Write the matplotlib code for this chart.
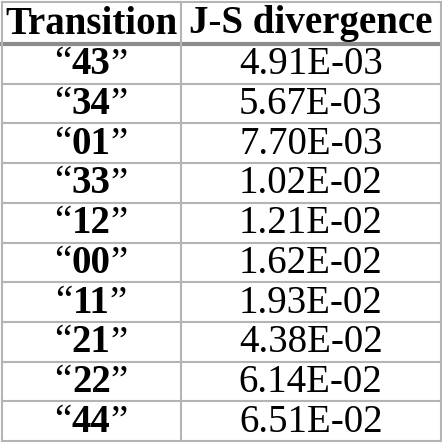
import matplotlib
matplotlib.use("Agg")
import matplotlib.pyplot as plt
from matplotlib.offsetbox import TextArea, HPacker, AnnotationBbox

headers = ["Transition", "J-S divergence"]
transitions = ["43", "34", "01", "33", "12", "00", "11", "21", "22", "44"]
divergences = ["4.91E-03", "5.67E-03", "7.70E-03", "1.02E-02", "1.21E-02",
               "1.62E-02", "1.93E-02", "4.38E-02", "6.14E-02", "6.51E-02"]

FONT = ["Liberation Serif", "DejaVu Serif"]
GRID = "#b4b4b4"
FS = 28

fig = plt.figure(figsize=(4.42, 4.44), dpi=100)
ax = fig.add_axes([0, 0, 1, 1])
ax.set_xlim(0, 442)
ax.set_ylim(444, 0)
ax.axis("off")

left, mid, right = 1.5, 181, 440.5
top, head_bottom, bottom = 2, 44, 441
row_h = (bottom - head_bottom) / len(transitions)

# grid lines
ax.plot([left, right], [top, top], color=GRID, lw=1.5)
ax.plot([left, right], [head_bottom, head_bottom], color="#8c8c8c", lw=3)
for i in range(1, len(transitions) + 1):
    y = head_bottom + i * row_h
    ax.plot([left, right], [y, y], color=GRID, lw=1.5)
for x in (left, mid, right):
    ax.plot([x, x], [top, bottom], color=GRID, lw=1.5)

# header
cx = [(left + mid) / 2, (mid + right) / 2]
for x, h in zip(cx, headers):
    ax.text(x, (top + head_bottom) / 2 + 1, h, ha="center", va="center",
            fontsize=FS, fontweight="bold", family=FONT)

# rows
for i, (t, d) in enumerate(zip(transitions, divergences)):
    yc = head_bottom + (i + 0.5) * row_h + 1
    props_n = dict(fontsize=FS, family=FONT)
    props_b = dict(fontsize=FS, family=FONT, fontweight="bold")
    box = HPacker(children=[TextArea("\u201c", textprops=props_n),
                            TextArea(t, textprops=props_b),
                            TextArea("\u201d", textprops=props_n)],
                  pad=0, sep=0, align="baseline")
    ab = AnnotationBbox(box, (cx[0], yc), frameon=False, box_alignment=(0.5, 0.5))
    ax.add_artist(ab)
    ax.text(cx[1], yc, d, ha="center", va="center", fontsize=FS, family=FONT)

fig.savefig("out.png", dpi=100)
